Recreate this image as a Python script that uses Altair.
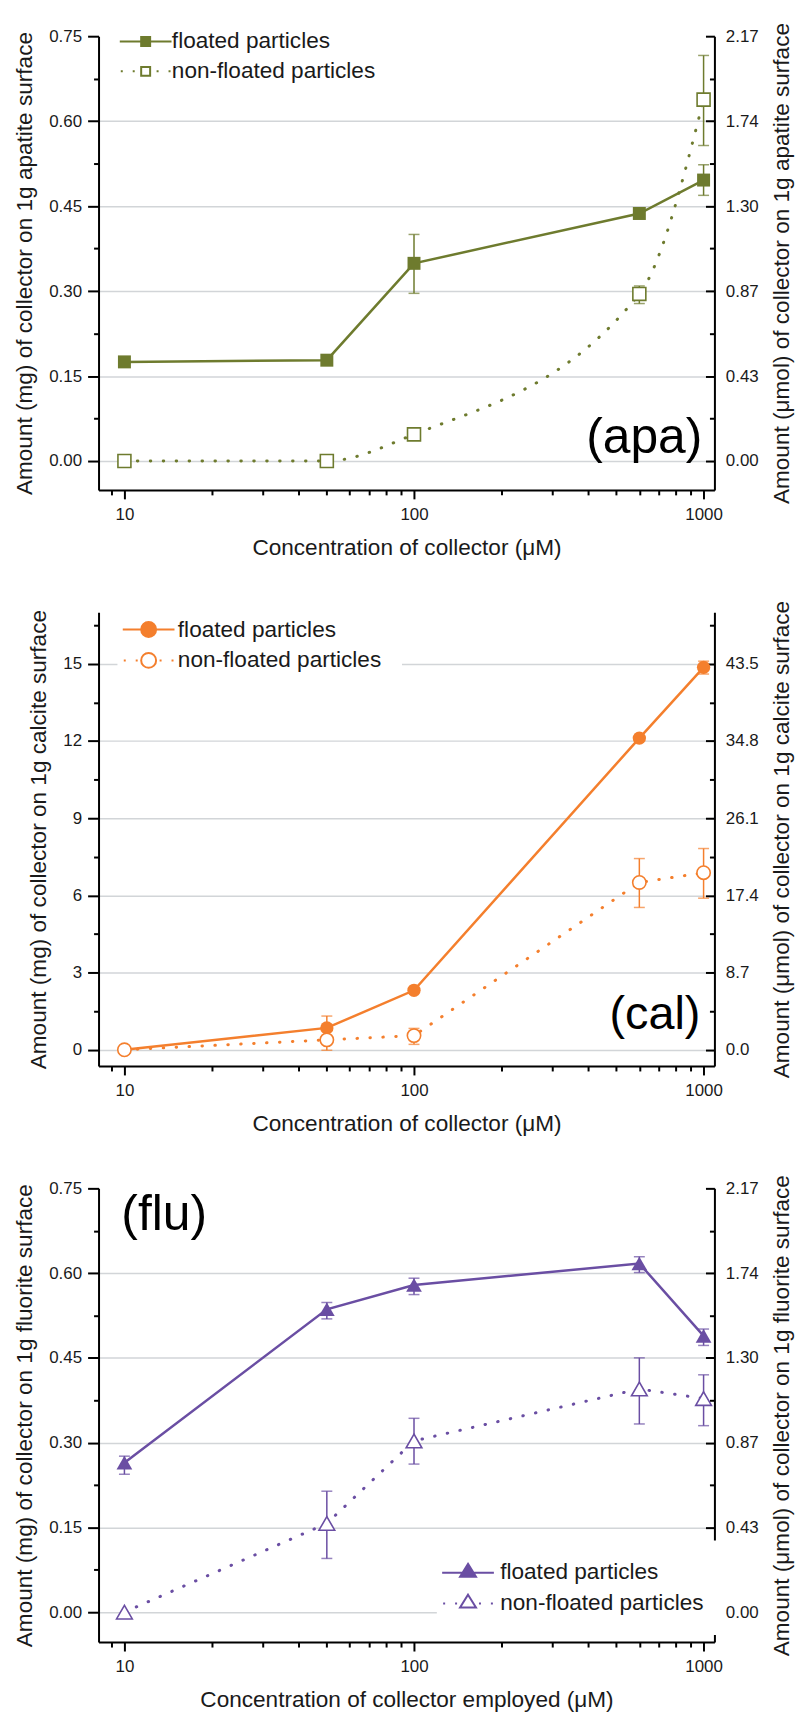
import altair as alt
import pandas as pd

# ---------------- data ----------------
conc = [10, 50, 100, 600, 1000]
series_names = ["floated particles", "non-floated particles"]

# (apa) apatite, mg per g
apa_floated = [0.175, 0.178, 0.349, 0.437, 0.496]
apa_floated_lo = [None, None, 0.296, None, 0.469]
apa_floated_hi = [None, None, 0.400, None, 0.523]
apa_nonfloated = [0.0, 0.0, 0.047, 0.295, 0.638]
apa_nonfloated_lo = [None, None, None, 0.278, 0.557]
apa_nonfloated_hi = [None, None, None, 0.309, 0.716]

# (cal) calcite, mg per g
cal_floated = [0.0, 0.85, 2.31, 12.11, 14.86]
cal_floated_lo = [None, 0.39, None, None, 14.60]
cal_floated_hi = [None, 1.31, None, None, 15.10]
cal_nonfloated = [0.0, 0.385, 0.55, 6.50, 6.88]
cal_nonfloated_lo = [None, -0.02, 0.21, 5.53, 5.89]
cal_nonfloated_hi = [None, 0.79, 0.83, 7.43, 7.82]

# (flu) fluorite, mg per g
flu_floated = [0.2645, 0.536, 0.579, 0.617, 0.489]
flu_floated_lo = [0.244, 0.519, 0.562, 0.601, 0.472]
flu_floated_hi = [0.276, 0.548, 0.591, 0.629, 0.501]
flu_nonfloated = [0.0, 0.157, 0.303, 0.395, 0.378]
flu_nonfloated_lo = [None, 0.095, 0.262, 0.333, 0.330]
flu_nonfloated_hi = [None, 0.214, 0.343, 0.450, 0.420]

# axis ticks
x_major = [10, 100, 1000]
x_minor = [9, 20, 30, 40, 50, 60, 70, 80, 90, 200, 300, 400, 500, 600, 700, 800, 900]
mg_major = [0.0, 0.15, 0.30, 0.45, 0.60, 0.75]
mg_minor = [0.075, 0.225, 0.375, 0.525, 0.675]
mg_grid = [0.0, 0.15, 0.30, 0.45, 0.60]
umol_major = [0.0, 0.434, 0.868, 1.302, 1.736, 2.17]
cal_major = [0, 3, 6, 9, 12, 15]
cal_minor = [1.5, 4.5, 7.5, 10.5, 13.5, 16.5]
cal_grid = [0, 3, 6, 9, 12, 15]
cal_umol_major = [0.0, 8.7, 17.4, 26.1, 34.8, 43.5]

# panel labels
apa_label = ["(apa)"]; apa_label_x = [990]; apa_label_y = [0.014]
cal_label = ["(cal)"]; cal_label_x = [975]; cal_label_y = [0.81]
flu_label = ["(flu)"]; flu_label_x = [9.76]; flu_label_y = [0.677]

# ---------------- styling ----------------
FONT = "Liberation Sans"
TXT = "#1a1a1a"
W, H = 619, 456
XDOM = [8.14, 1090]
TFS = 22.7


def make_df(fy, flo, fhi, ny, nlo, nhi):
    rows = []
    for s, ys, los, his in ((series_names[0], fy, flo, fhi), (series_names[1], ny, nlo, nhi)):
        for x, y, lo, hi in zip(conc, ys, los, his):
            rows.append({"x": x, "y": y, "lo": lo, "hi": hi, "series": s})
    return pd.DataFrame(rows)


AX = dict(domainColor="black", domainWidth=2, tickColor="black", tickWidth=2,
          labelFont=FONT, labelFontSize=17, labelColor=TXT,
          titleFont=FONT, titleFontSize=TFS, titleColor=TXT, titleFontWeight="normal",
          grid=False)


def xenc(axis=None):
    return alt.X("x:Q", scale=alt.Scale(type="log", domain=XDOM, nice=False), axis=axis)


def panel(df, cfg):
    C = cfg["color"]
    ydom = cfg["ydom"]

    def ysc(dom=None):
        return alt.Scale(domain=dom or ydom, nice=False, zero=False)

    base = alt.Chart(df)
    layers = []
    # grid
    layers.append(base.mark_point(opacity=0).encode(
        x=xenc(),
        y=alt.Y("y:Q", scale=ysc(), axis=alt.Axis(
            orient="left", values=cfg["grid"], grid=True, gridColor="#d2d5d8", gridWidth=1.5,
            ticks=False, labels=False, domain=False, title=None))))

    for s in series_names:
        sub = base.transform_filter(alt.datum.series == s)
        layers.append(sub.transform_filter("isValid(datum.lo)").mark_rule(
            color=C, strokeWidth=1.5).encode(
            x=xenc(), y=alt.Y("lo:Q", scale=ysc(), axis=None), y2="hi:Q"))
        layers.append(sub.transform_fold(["lo", "hi"], as_=["k", "v"]).transform_filter(
            "isValid(datum.v)").mark_tick(color=C, orient="horizontal", size=11, thickness=1.5).encode(
            x=xenc(), y=alt.Y("v:Q", scale=ysc(), axis=None)))

    for s in series_names:
        sub = base.transform_filter(alt.datum.series == s)
        if s == series_names[0]:
            ln = sub.mark_line(color=C, strokeWidth=2.5)
        else:
            ln = sub.mark_line(color=C, strokeWidth=3, strokeDash=[0.5, 12.5], strokeCap="round",
                               interpolate=cfg["interp"])
        layers.append(ln.encode(x=xenc(), y=alt.Y("y:Q", scale=ysc(), axis=None)))

    for s in series_names:
        sub = base.transform_filter(alt.datum.series == s)
        if s == series_names[0]:
            pt = sub.mark_point(shape=cfg["shape"], filled=True, color=C, size=cfg["size"], opacity=1)
        else:
            pt = sub.mark_point(shape=cfg["shape"], filled=True, fill="white", stroke=C,
                                strokeWidth=1.6, size=cfg["size"], opacity=1)
        layers.append(pt.encode(x=xenc(), y=alt.Y("y:Q", scale=ysc(), axis=None)))

    # left axis (major) + bottom axis (major)
    layers.append(base.mark_point(opacity=0).encode(
        x=xenc(alt.Axis(orient="bottom", values=x_major, format="d", tickSize=9, labelPadding=8,
                        labelFlush=False, title=cfg["xtitle"], titlePadding=14, **AX)),
        y=alt.Y("y:Q", scale=ysc(), axis=alt.Axis(
            orient="left", values=cfg["major"], format=cfg["fmt"], tickSize=11, labelPadding=6,
            title=cfg["ltitle"], titlePadding=12, **AX))))
    # minor ticks left + bottom
    layers.append(base.mark_point(opacity=0).encode(
        x=xenc(alt.Axis(orient="bottom", values=x_minor, tickSize=5, labels=False, domain=False,
                        title=None, tickColor="black", tickWidth=2)),
        y=alt.Y("y:Q", scale=ysc(), axis=alt.Axis(
            orient="left", values=cfg["minor"], tickSize=5, labels=False, domain=False,
            title=None, tickColor="black", tickWidth=2))))
    # right axis labels (umol)
    rf = cfg["rf"]
    rdom = [ydom[0] * rf, ydom[1] * rf]
    layers.append(base.transform_calculate(yr=f"datum.y*{rf}").mark_point(opacity=0).encode(
        x=xenc(),
        y=alt.Y("yr:Q", scale=ysc(rdom), axis=alt.Axis(
            orient="right", values=cfg["rmajor"], format=cfg["rfmt"], ticks=False, tickSize=0,
            labelPadding=11, title=cfg["rtitle"], titleAngle=270, titleBaseline="top",
            titlePadding=12, **AX))))
    # right inward ticks
    for vals, size in ((cfg["major"], 9), (cfg["minor"], 5)):
        layers.append(base.mark_point(opacity=0).encode(
            x=xenc(),
            y=alt.Y("y:Q", scale=ysc(), axis=alt.Axis(
                orient="left", offset=-W, values=vals, tickSize=size, labels=False, domain=False,
                title=None, tickColor="black", tickWidth=2))))

    # legend (built from an empty layer)
    lkw = dict(title=None, orient="none", legendX=cfg["legX"], legendY=cfg["legY"],
               symbolSize=100, symbolStrokeWidth=2, symbolStrokeColor=C,
               labelFont=FONT, labelFontSize=TFS, labelColor=TXT, labelOffset=cfg["legOff"],
               rowPadding=6, padding=cfg["legP"], labelLimit=400)
    if cfg["legFill"]:
        lkw["fillColor"] = "white"
    leg = alt.Legend(**lkw)
    layers.append(base.transform_filter("false").mark_point(opacity=1, strokeWidth=2).encode(
        x=xenc(), y=alt.Y("y:Q", scale=ysc(), axis=None),
        shape=alt.Shape("series:N", scale=alt.Scale(domain=series_names, range=cfg["paths"]), legend=leg),
        fill=alt.Fill("series:N", scale=alt.Scale(domain=series_names, range=[C, "white"]), legend=leg),
        stroke=alt.Stroke("series:N", scale=alt.Scale(domain=series_names, range=[C, C]), legend=leg)))

    # panel label
    ann = pd.DataFrame({"x": cfg["lab_x"], "y": cfg["lab_y"], "t": cfg["lab"]})
    layers.append(alt.Chart(ann).mark_text(
        align=cfg["lab_align"], baseline="alphabetic", font=FONT, fontSize=cfg["lab_fs"], color="black").encode(
        x=xenc(), y=alt.Y("y:Q", scale=ysc(), axis=None), text="t:N"))

    return alt.layer(*layers).resolve_scale(y="independent").resolve_axis(
        x="independent", y="independent").properties(width=W, height=H)


def dots(y):
    return "".join(f"M{a:.2f},{y}H{a + 0.4:.2f}" for a in (-5.0, -2.6, 2.2, 4.6))


sq_f = "M-5.2,0H-0.9M0.9,0H5.2M-0.9,-0.9H0.9V0.9H-0.9Z"
sq_n = dots(0) + "M-0.9,-0.9H0.9V0.9H-0.9Z"
ci_f = "M-5.2,0H-1.5M1.5,0H5.2M-1.5,0A1.5,1.5,0,1,0,1.5,0A1.5,1.5,0,1,0,-1.5,0Z"
ci_n = dots(0) + "M-1.5,0A1.5,1.5,0,1,0,1.5,0A1.5,1.5,0,1,0,-1.5,0Z"
tr_f = "M-5.2,0.2H-1.2M1.2,0.2H5.2M0,-1.6L1.6,1H-1.6Z"
tr_n = dots(0.2) + "M0,-1.6L1.6,1H-1.6Z"

p1 = panel(make_df(apa_floated, apa_floated_lo, apa_floated_hi,
                   apa_nonfloated, apa_nonfloated_lo, apa_nonfloated_hi), dict(
    color="#6e7b2e", ydom=[-0.051, 0.75], grid=mg_grid, major=mg_major, minor=mg_minor, fmt=".2f",
    rf=2.17 / 0.75, rmajor=umol_major, rfmt=".2f", shape="square", size=170, interp="monotone",
    ltitle="Amount (mg) of collector on 1g apatite surface",
    rtitle="Amount (\u03bcmol) of collector on 1g apatite surface",
    xtitle="Concentration of collector (\u03bcM)",
    legX=36, legY=-6, legP=0, legFill=False, legOff=15, paths=[sq_f, sq_n],
    lab=apa_label, lab_x=apa_label_x, lab_y=apa_label_y, lab_align="right", lab_fs=50))

p2 = panel(make_df(cal_floated, cal_floated_lo, cal_floated_hi,
                   cal_nonfloated, cal_nonfloated_lo, cal_nonfloated_hi), dict(
    color="#f47f2d", ydom=[-0.63, 17], grid=cal_grid, major=cal_major, minor=cal_minor, fmt="d",
    rf=2.9, rmajor=cal_umol_major, rfmt=".1f", shape="circle", size=180, interp="linear",
    ltitle="Amount (mg) of collector on 1g calcite surface",
    rtitle="Amount (\u03bcmol) of collector on 1g calcite surface",
    xtitle="Concentration of collector (\u03bcM)",
    legX=19, legY=-14, legP=20, legFill=True, legOff=18, paths=[ci_f, ci_n],
    lab=cal_label, lab_x=cal_label_x, lab_y=cal_label_y, lab_align="right", lab_fs=47))

p3 = panel(make_df(flu_floated, flu_floated_lo, flu_floated_hi,
                   flu_nonfloated, flu_nonfloated_lo, flu_nonfloated_hi), dict(
    color="#6a4ea3", ydom=[-0.053, 0.75], grid=mg_grid, major=mg_major, minor=mg_minor, fmt=".2f",
    rf=2.17 / 0.75, rmajor=umol_major, rfmt=".2f", shape="triangle-up", size=250, interp="linear",
    ltitle="Amount (mg) of collector on 1g fluorite surface",
    rtitle="Amount (\u03bcmol) of collector on 1g fluorite surface",
    xtitle="Concentration of collector employed (\u03bcM)",
    legX=340, legY=354, legP=20, legFill=True, legOff=21, paths=[tr_f, tr_n],
    lab=flu_label, lab_x=flu_label_x, lab_y=flu_label_y, lab_align="left", lab_fs=50))

chart = alt.vconcat(p1, p2, p3, spacing=123, bounds="flush").resolve_scale(
    shape="independent", fill="independent", stroke="independent").resolve_legend(
    shape="independent", fill="independent", stroke="independent").properties(
    padding={"left": 5, "top": 10, "right": 5, "bottom": 5}, background="white"
).configure_view(stroke=None)

chart.save("out.html", embed_options={"renderer": "svg", "actions": False})
